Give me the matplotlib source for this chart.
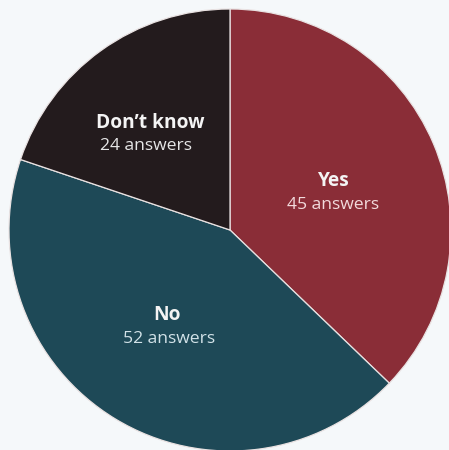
import matplotlib
matplotlib.use("Agg")
import matplotlib.pyplot as plt

categories = ["Yes", "No", "Don\u2019t know"]
answers = [45, 52, 24]
colors = ["#8A2D37", "#1E4957", "#231B1D"]
count_colors = ["#F2DADC", "#D2E2E8", "#E6E6E6"]

W, H, DPI = 449, 450, 100
R = 221.0
cx, cy = 230.0, 230.0

fig = plt.figure(figsize=(W / DPI, H / DPI), dpi=DPI, facecolor="#F5F8FA")
ax = fig.add_axes([0, 0, 1, 1])
ax.set_facecolor("#F5F8FA")
ax.pie(answers, colors=colors, startangle=90, counterclock=False, radius=1,
       wedgeprops=dict(edgecolor="#E9E2E2", linewidth=0.9))
ax.set_xlim(-cx / R, (W - cx) / R)
ax.set_ylim(-(H - cy) / R, cy / R)
ax.set_aspect("equal")
ax.axis("off")

def px(x, y):
    return (x - cx) / R, (cy - y) / R

label_px = [(333, 181), (167, 315), (150, 123)]
count_px = [(333, 205), (169, 339), (146, 146)]
for cat, n, lp, cp, cc in zip(categories, answers, label_px, count_px, count_colors):
    ax.text(*px(*lp), cat, ha="center", va="center", fontsize=13.8,
            fontweight="bold", color="#F4F4F4", family="Open Sans")
    ax.text(*px(*cp), f"{n} answers", ha="center", va="center", fontsize=12.6,
            color=cc, family="Open Sans")

fig.savefig("out.png", dpi=DPI, facecolor=fig.get_facecolor())
